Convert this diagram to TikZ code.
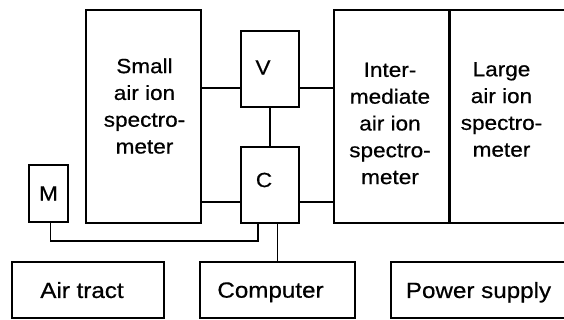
\documentclass[tikz,border=0pt]{standalone}
\usepackage{fontspec}
\setsansfont[FakeStretch=1.1, FakeBold=0.6]{Liberation Sans}
\usetikzlibrary{positioning}

\begin{document}
\begin{tikzpicture}[x=1pt, y=1pt, line width=1.2pt,
  every node/.style={font=\fontsize{20.5}{26.8}\selectfont\sffamily},
  unit/.style={draw, rectangle, inner sep=0pt, align=center},
  txt/.style={align=center, inner sep=0pt},
  bottom/.style={unit, minimum height=56pt},
  every label/.style={font=\fontsize{22}{26}\selectfont\sffamily, text depth=0pt}]
  \clip (0,0) rectangle (564,320);
  % spectrometers
  \node[unit, minimum width=115pt, minimum height=213pt] (small) at (143.5,203.5) {};
  \node[unit, minimum width=115pt, minimum height=213pt] (inter) at (391.5,203.5) {};
  \node[unit, minimum width=131pt, minimum height=213pt, right=0pt of inter] (large) {};
  \node[txt] (smalltxt) at (144.5,214) {Small\\air ion\\spectro-\\meter};
  \node[txt] (intertxt) at (390,196.5) {Inter-\\mediate\\air ion\\spectro-\\meter};
  \node[txt] (largetxt) at (501.5,210.5) {Large\\air ion\\spectro-\\meter};
  % small units
  \node[unit, minimum width=58pt, minimum height=76pt] (V) at (270,251) {};
  \node[unit, minimum width=58pt, minimum height=76pt] (C) at (270,135) {};
  \node[unit, minimum width=39pt, minimum height=57pt] (M) at (48.5,126.5) {M};
  \node[txt] (Vtxt) at ([xshift=-7pt,yshift=1.5pt]V.center) {V};
  \node[txt] (Ctxt) at ([xshift=-6pt,yshift=5pt]C.center) {C};
  % bottom row
  \node[bottom, minimum width=152pt, label={[xshift=-6pt]center:Air tract}] (air) at (88,30) {};
  \node[bottom, minimum width=155pt, label={[xshift=-7pt]center:Computer}] (comp) at (277.5,30) {};
  \node[bottom, minimum width=175pt, label={center:Power supply}] (power) at (478.5,30) {};
  % connections
  \draw ([yshift=-19pt]V.west) -- ([yshift=-19pt]V.west -| small.east);
  \draw ([yshift=-19pt]V.east) -- ([yshift=-19pt]V.east -| inter.west);
  \draw ([yshift=-17pt]C.west) -- ([yshift=-17pt]C.west -| small.east);
  \draw ([yshift=-17pt]C.east) -- ([yshift=-17pt]C.east -| inter.west);
  \draw (V) -- (C);
  \draw ([xshift=2pt]M.south) -- ([xshift=2pt]M.south |- 0,79) -| ([xshift=-12pt]C.south);
  \draw (comp.north) -- (comp.north |- C.south);
\end{tikzpicture}
\end{document}
